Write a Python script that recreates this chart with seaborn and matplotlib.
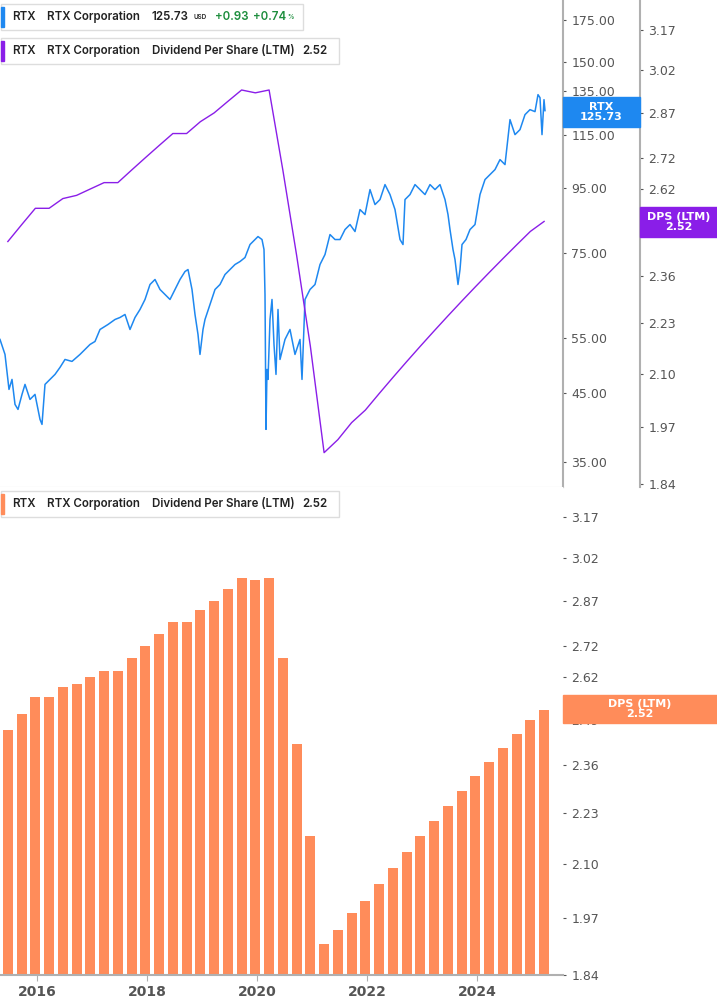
import numpy as np
import pandas as pd
import matplotlib
matplotlib.use("Agg")
import matplotlib.pyplot as plt
import seaborn as sns
from matplotlib.ticker import FixedLocator, NullLocator, FixedFormatter
from matplotlib.patches import Rectangle

# ---- data ----
dps_dates = [2015.47 + 0.25 * i for i in range(40)]
dps_values = [2.46, 2.51, 2.56, 2.56, 2.59, 2.60, 2.62, 2.64, 2.64, 2.68,
              2.72, 2.76, 2.80, 2.80, 2.84, 2.87, 2.91, 2.95, 2.94, 2.95,
              2.68, 2.42, 2.17, 1.91, 1.94, 1.98, 2.01, 2.05, 2.09, 2.13,
              2.17, 2.21, 2.25, 2.29, 2.33, 2.37, 2.41, 2.45, 2.49, 2.52]

price_x_px = [0, 5, 9, 12, 15, 18, 22, 25, 30, 35, 40, 42, 45, 50, 55, 60, 65, 72, 80, 85, 90,
              95, 100, 108, 115, 120, 125, 130, 135, 140, 145, 150, 155, 160, 165, 170, 175,
              180, 185, 188, 192, 195, 198, 200, 203, 205, 210, 215, 220, 225, 230, 235, 240,
              245, 250, 255, 258, 262, 264, 265, 266, 267, 268, 270, 272, 274, 276, 278, 280,
              285, 290, 295, 300, 302, 305, 310, 315, 320, 325, 330, 335, 340, 345, 350, 355,
              360, 365, 370, 375, 380, 385, 390, 395, 400, 403, 405, 410, 415, 420, 425, 430,
              435, 440, 445, 448, 450, 453, 455, 458, 460, 462, 466, 470, 475, 480, 485, 490,
              495, 500, 505, 510, 515, 520, 525, 530, 535, 538, 540, 542, 544, 545]
price_y_px = [340, 355, 390, 380, 405, 410, 395, 385, 400, 395, 420, 425, 385, 380, 375, 368,
              360, 362, 355, 350, 345, 342, 330, 325, 320, 318, 315, 330, 318, 310, 300, 285,
              280, 290, 295, 300, 290, 280, 272, 270, 290, 315, 335, 355, 330, 320, 305, 290,
              285, 275, 270, 265, 262, 258, 245, 240, 237, 240, 250, 295, 430, 370, 380, 320,
              300, 345, 375, 310, 360, 340, 330, 355, 340, 380, 300, 290, 285, 265, 255, 235,
              240, 240, 230, 225, 232, 210, 215, 190, 205, 200, 185, 195, 210, 240, 245, 200,
              195, 185, 190, 195, 185, 190, 185, 200, 215, 230, 250, 260, 285, 270, 245, 240,
              230, 225, 195, 180, 175, 170, 160, 165, 120, 135, 130, 115, 110, 112, 95, 98,
              135, 100, 111]
price_dates = [2016 + (x - 37) / 55 for x in price_x_px]
price_values = [round(35 * np.exp((463 - y) * 0.003633), 2) for y in price_y_px]

price_ticks = [35, 45, 55, 75, 95, 115, 135, 150, 175]
dps_ticks = [1.84, 1.97, 2.10, 2.23, 2.36, 2.49, 2.62, 2.72, 2.87, 3.02, 3.17]
year_ticks = [2016, 2018, 2020, 2022, 2024]

BLUE = "#1e88f0"
PURPLE = "#8a1ee8"
ORANGE = "#ff8c5a"
GRAY = "#555555"
SPINE = "#b0b0b0"

W, H = 717, 1005
fig = plt.figure(figsize=(W / 100, H / 100), dpi=100)
xmin = 2016 - 37 / 55
xmax = 2016 + (563 - 37) / 55

def rect(l, t, r, b):
    return [l / W, 1 - b / H, (r - l) / W, (b - t) / H]

def style_y(a, ticks):
    a.set_yscale("log")
    a.yaxis.set_major_locator(FixedLocator(ticks))
    a.yaxis.set_major_formatter(FixedFormatter([f"{t:.2f}" for t in ticks]))
    a.yaxis.set_minor_locator(NullLocator())
    a.tick_params(axis="y", which="both", left=False, labelleft=False, right=True,
                  labelright=True, length=2, color=GRAY, labelsize=9, labelcolor=GRAY, pad=4)
    a.set_ylabel("")

# ---- top panel ----
ax = fig.add_axes(rect(0, 0, 563, 487))
df_p = pd.DataFrame({"date": price_dates, "price": price_values})
sns.lineplot(data=df_p, x="date", y="price", ax=ax, color=BLUE, linewidth=1.1)
ax.set_xlim(xmin, xmax)
ax.set_xticks([])
ax.set_xlabel("")

ax2 = ax.twinx()
df_d = pd.DataFrame({"date": dps_dates, "dps": dps_values})
sns.lineplot(data=df_d, x="date", y="dps", ax=ax2, color=PURPLE, linewidth=1.0)
style_y(ax, price_ticks)
ax.set_ylim(32.0, 188.0)
style_y(ax2, dps_ticks)
ax2.set_ylim(1.833, 3.286)
for s in ["top", "left"]:
    ax.spines[s].set_visible(False)
ax.spines["right"].set_color(SPINE)
ax.spines["right"].set_linewidth(1.5)
ax.spines["bottom"].set_color("#d0d0d0")
ax2.spines["right"].set_position(("outward", 77 * 0.72))
ax2.spines["right"].set_color(SPINE)
ax2.spines["right"].set_linewidth(1.5)
for s in ["top", "left", "bottom"]:
    ax2.spines[s].set_visible(False)

# ---- bottom panel ----
bx = fig.add_axes(rect(0, 487, 563, 975))
bx.set_yscale("log")
sns.barplot(x=dps_dates, y=dps_values, native_scale=True, ax=bx, color=ORANGE,
            width=0.72, saturation=1)
style_y(bx, dps_ticks)
bx.set_ylim(1.84, 3.285)
bx.set_xlim(xmin, xmax)
bx.set_xticks(year_ticks)
bx.set_xticklabels([str(y) for y in year_ticks], fontweight="bold")
bx.tick_params(axis="x", length=4, color=SPINE, labelsize=10, labelcolor=GRAY)
for s in ["top", "left", "right"]:
    bx.spines[s].set_visible(False)
bx.spines["bottom"].set_color(SPINE)
bx.spines["bottom"].set_linewidth(1.5)

# ---- value labels on axes ----
def label_box(l, t, r, b, color, lines):
    fig.patches.append(Rectangle((l / W, 1 - b / H), (r - l) / W, (b - t) / H,
                                 transform=fig.transFigure, color=color, zorder=5))
    fig.text((l + r) / 2 / W, 1 - (t + b) / 2 / H, lines, color="white", fontsize=8,
             fontweight="bold", ha="center", va="center", linespacing=1.0, zorder=6)

label_box(563, 97, 640, 127, BLUE, "RTX\n125.73")
label_box(640, 207, 717, 237, PURPLE, "DPS (LTM)\n2.52")
label_box(563, 695, 717, 723, ORANGE, "DPS (LTM)\n2.52")

# ---- legend boxes ----
def legend_box(top, width, color, parts):
    l, t, r, b = 1, top, width, top + 26
    fig.patches.append(Rectangle((l / W, 1 - b / H), (r - l) / W, (b - t) / H,
                                 transform=fig.transFigure, facecolor="white",
                                 edgecolor="#dddddd", linewidth=1, zorder=5))
    fig.patches.append(Rectangle((l / W, 1 - (b - 3) / H), 3 / W, (b - t - 6) / H,
                                 transform=fig.transFigure, color=color, zorder=6))
    for x, txt, c, fs in parts:
        fig.text(x / W, 1 - (t + 13) / H, txt, color=c, fontsize=fs,
                 fontweight="semibold", family="Inter", ha="left", va="center", zorder=7)

legend_box(4, 303, BLUE, [(12, "RTX", "#222222", 8.3), (47, "RTX Corporation", "#222222", 8.3),
                          (152, "125.73", "#222222", 8.3), (193, "USD", "#222222", 4.5),
                          (215, "+0.93", "#1e8e3e", 8.3), (253, "+0.74", "#1e8e3e", 8.3),
                          (287, "%", "#1e8e3e", 4.5)])
legend_box(38, 339, PURPLE, [(12, "RTX", "#222222", 8.3), (47, "RTX Corporation", "#222222", 8.3),
                             (152, "Dividend Per Share (LTM)", "#222222", 8.3),
                             (302, "2.52", "#222222", 8.3)])
legend_box(491, 339, ORANGE, [(12, "RTX", "#222222", 8.3), (47, "RTX Corporation", "#222222", 8.3),
                              (152, "Dividend Per Share (LTM)", "#222222", 8.3),
                              (302, "2.52", "#222222", 8.3)])

fig.savefig("out.png", dpi=100)
